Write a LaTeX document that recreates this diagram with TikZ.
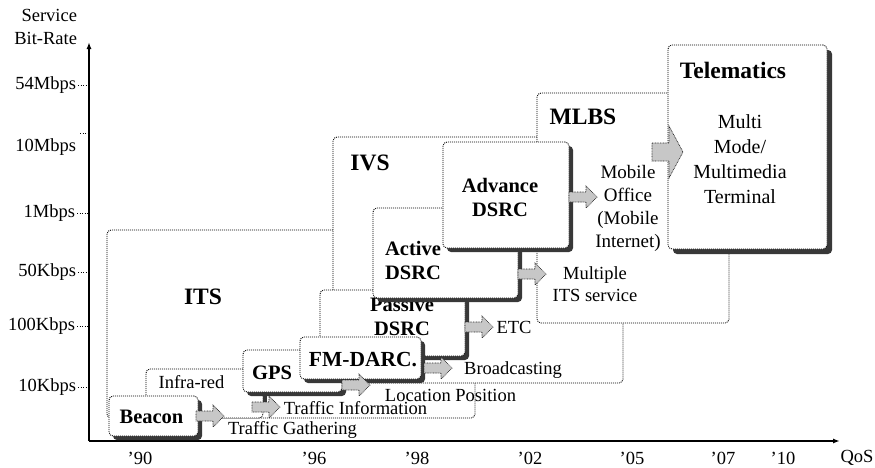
\documentclass[tikz,border=0pt]{standalone}
\usepackage{fontspec}
\setmainfont{Liberation Serif}
\usetikzlibrary{shadows,arrows.meta}
\newcommand\txtreg{\fontsize{18.5}{23}\selectfont}
\newcommand\txtmob{\fontsize{19}{23}\selectfont}
\newcommand\txttel{\fontsize{20}{25}\selectfont}
\newcommand\txtbig{\bfseries\fontsize{23.5}{28}\selectfont}
\newcommand\txtmid{\bfseries\fontsize{20.5}{24}\selectfont}
\begin{document}
\begin{tikzpicture}[x=1pt,y=-1pt,
  box/.style={draw=black, line width=0.85pt, dash pattern=on 1pt off 1pt, rounded corners=4pt, fill=white, inner sep=0pt, outer sep=0pt, anchor=north west},
  sbox/.style={box, drop shadow={shadow xshift=#1, shadow yshift=-#1, fill=black!78, opacity=1}},
  sbox/.default=4pt,
  lbl/.style={inner sep=0pt, outer sep=0pt, font=\txtreg, align=center},
  blockarr/.style={fill=black!22, draw=black!85, line width=0.7pt, dash pattern=on 0.8pt off 0.8pt},
  axis/.style={line width=1.5pt, -{Latex[length=7pt,width=5pt]}},
  tick/.style={line width=0.8pt, dash pattern=on 1pt off 1.5pt, shorten <=2pt},
  pics/fatarr/.style={code={\filldraw[blockarr] (0,-5) -- (17,-5) -- (17,-11) -- (28,0) -- (17,11) -- (17,5) -- (0,5) -- cycle;}},
  pics/bigarr/.style={code={\filldraw[blockarr] (0,-9) -- (17,-9) -- (17,-26) -- (31,0) -- (17,26) -- (17,9) -- (0,9) -- cycle;}}
]
\useasboundingbox (0,0) rectangle (875,467);

% axes
\coordinate (O) at (89,441);
\coordinate (ytop) at (89,42);
\coordinate (xend) at (840,441);
\draw[axis] (O) -- (ytop);
\draw[axis] (O) -- (xend);

\node[lbl, anchor=east] (svc) at (77,15) {Service};
\node[lbl, anchor=east] (bitrate) at (77,38) {Bit-Rate};

\node[lbl, anchor=east] (y54) at (76,85) {54Mbps};
\node[lbl, anchor=east] (y10M) at (76,147) {10Mbps};
\node[lbl, anchor=east] (y1M) at (75,213) {1Mbps};
\node[lbl, anchor=east] (y50k) at (76,272) {50Kbps};
\node[lbl, anchor=east] (y100k) at (75,326) {100Kbps};
\node[lbl, anchor=east] (y10k) at (76,387) {10Kbps};
\coordinate (t10M) at (80,133);
\draw[tick] (y54.east) -- (y54.east -| O);
\draw[tick, shorten <=0pt] (t10M) -- (t10M -| O);
\draw[tick] (y1M.east) -- (y1M.east -| O);
\draw[tick] (y50k.east) -- (y50k.east -| O);
\draw[tick] (y100k.east) -- (y100k.east -| O);
\draw[tick] (y10k.east) -- (y10k.east -| O);

\node[lbl] (x90) at (140,458) {'90};
\node[lbl] (x96) at (314,458) {'96};
\node[lbl] (x98) at (417,458) {'98};
\node[lbl] (x02) at (530,458) {'02};
\node[lbl] (x05) at (632,458) {'05};
\node[lbl] (x07) at (723,458) {'07};
\node[lbl] (x10) at (783,458) {'10};
\node[lbl] (qos) at (857,458) {QoS};

% boxes, back to front
\node[box, minimum width=368pt, minimum height=188pt] (its) at (107,230) {};
\node[box, minimum width=290pt, minimum height=246pt] (ivs) at (333,137) {};
\node[box, minimum width=192pt, minimum height=230pt] (mlbs) at (537,93) {};
\node[sbox=5pt, minimum width=159pt, minimum height=204pt] (tele) at (668,45) {};
\node[box, minimum width=117pt, minimum height=49pt] (infra) at (146,369) {};
\node[sbox, minimum width=89pt, minimum height=40pt] (beacon) at (109,396) {};
\node[sbox, minimum width=99pt, minimum height=42pt] (gps) at (243,350) {};
\node[sbox, minimum width=145pt, minimum height=66pt] (passive) at (320,290) {};
\node[lbl, font=\txtmid] (tpassive) at (402,316.5) {Passive\\DSRC};
\node[sbox, minimum width=121pt, minimum height=42pt] (fmdarc) at (300,337) {};
\node[sbox, minimum width=145pt, minimum height=90pt] (active) at (373,208) {};
\node[sbox, minimum width=126pt, minimum height=106pt] (advance) at (443,142) {};

% stem of the Infra-red box under GPS
\fill[black!78] (infra.south east |- gps.south) rectangle ([xshift=4pt,yshift=14pt]infra.south east);

% titles
\node[lbl, font=\txtbig] (tits) at (203,297) {ITS};
\node[lbl, font=\txtbig] (tivs) at (370,163) {IVS};
\node[lbl, font=\txtbig] (tmlbs) at (583,117) {MLBS};
\node[lbl, font=\txtbig] (ttele) at (733,70) {Telematics};
\node[lbl, font=\txttel, text depth=0pt] (tmulti) at (740,159) {Multi\\Mode/\\Multimedia\\Terminal};
\node[lbl, font=\txtmid] (tadvance) at (500,197.5) {Advance\\DSRC};
\node[lbl, font=\txtmob] (tmobile) at (628,208.5) {Mobile\\Office\\(Mobile\\Internet)};
\node[lbl, font=\txtmid] (tactive) at (413,260) {Active\\DSRC};
\node[lbl, font=\fontsize{18.5}{22}\selectfont] (tmultiple) at (595,284) {Multiple\\ITS service};
\node[lbl] (tetc) at (514,327) {ETC};
\node[lbl, font=\bfseries\fontsize{21.5}{25}\selectfont] (tfm) at (363,360) {FM-DARC.};
\node[lbl] (tbroad) at (513,370) {Broadcasting};
\node[lbl] (tloc) at (450.5,395) {Location Position};
\node[lbl, font=\txtmid] (tgps) at (272,373) {GPS};
\node[lbl] (tinfra) at (191.5,382) {Infra-red};
\node[lbl] (tinfo) at (355.5,408) {Traffic Information};
\node[lbl, font=\txtmid] (tbeacon) at (151.5,417) {Beacon};
\node[lbl] (tgather) at (292.5,430) {Traffic Gathering};

% block arrows
\pic at ([xshift=-2pt]beacon.east) {fatarr};
\pic at ([shift={(-11pt,11pt)}]infra.south east) {fatarr};
\pic at ([yshift=7pt]gps.south east) {fatarr};
\pic at ([shift={(3pt,11pt)}]fmdarc.south east) {fatarr};
\pic at ([yshift=-4pt]passive.east) {fatarr};
\pic at ([yshift=24pt]active.south east) {fatarr};
\pic at ([yshift=-2pt]advance.east) {fatarr};
\pic at ([shift={(-16pt,-5pt)}]tele.west) {bigarr};
\end{tikzpicture}
\end{document}
